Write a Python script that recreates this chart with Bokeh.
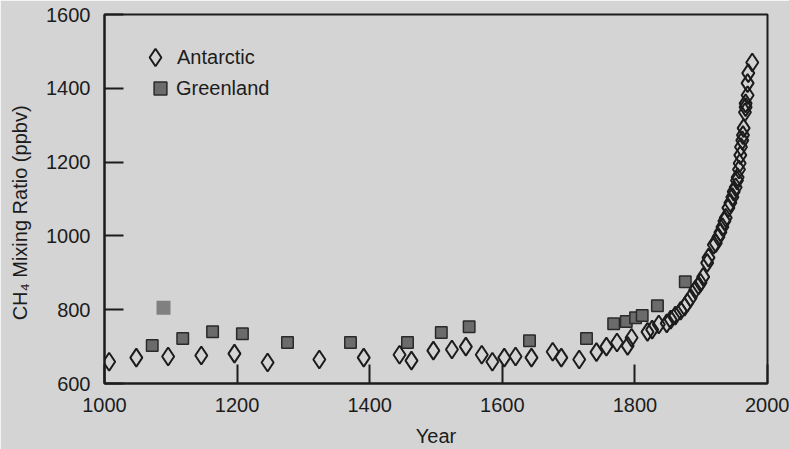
from bokeh.plotting import figure
from bokeh.models import Range1d, FixedTicker, Legend, LegendItem
from bokeh.embed import file_html
from bokeh.resources import INLINE

# Antarctic ice core CH4 (year, ppbv)
antarctic_year = [1007, 1048, 1096, 1146, 1196, 1246, 1324, 1391, 1445, 1463,
                  1496, 1524, 1545, 1569, 1585, 1603, 1620, 1644, 1676, 1689,
                  1716, 1742, 1757, 1773, 1789, 1795, 1819, 1826, 1836, 1848,
                  1854, 1861, 1869, 1875, 1879, 1884, 1891, 1896, 1899, 1903,
                  1909, 1911, 1919, 1922, 1926, 1929, 1932, 1935, 1937, 1941,
                  1944, 1947, 1949, 1952, 1954, 1955, 1957, 1958, 1959, 1960,
                  1962, 1963, 1964, 1966, 1967, 1967, 1970, 1970, 1971, 1977]
antarctic_ch4 = [659, 670, 673, 676, 681, 657, 665, 670, 678, 662,
                 689, 692, 700, 678, 659, 670, 673, 670, 686, 670,
                 665, 685, 700, 711, 702, 724, 740, 746, 760, 763,
                 773, 784, 797, 808, 819, 832, 854, 866, 873, 889,
                 927, 941, 976, 980, 997, 1010, 1024, 1040, 1049, 1076,
                 1090, 1105, 1120, 1132, 1150, 1159, 1180, 1197, 1219, 1241,
                 1259, 1273, 1292, 1335, 1349, 1359, 1381, 1414, 1441, 1470]

# Greenland ice core CH4
greenland_year = [1072, 1118, 1163, 1208, 1276, 1371, 1457, 1508, 1550, 1641,
                  1727, 1768, 1787, 1801, 1811, 1834, 1876]
greenland_ch4 = [703, 722, 740, 735, 711, 711, 711, 738, 754, 716,
                 722, 762, 768, 778, 784, 811, 876]

# Outlier (lighter square)
outlier_year = [1089]
outlier_ch4 = [805]

x_ticks = [1000, 1200, 1400, 1600, 1800, 2000]
y_ticks = [600, 800, 1000, 1200, 1400, 1600]

BG = "#d4d4d4"
INK = "#1c1c1c"
FONT = "Liberation Sans"
FS = "20px"

p = figure(width=789, height=449, output_backend="svg", toolbar_location=None,
           x_range=Range1d(1000, 2000), y_range=Range1d(600, 1600),
           min_border_left=104, min_border_right=22, min_border_top=14,
           min_border_bottom=66)
p.background_fill_color = BG
p.border_fill_color = BG
p.outline_line_color = INK
p.outline_line_width = 2
p.grid.visible = False

for ax in (p.xaxis[0], p.yaxis[0]):
    ax.axis_line_color = INK
    ax.axis_line_width = 2
    ax.major_tick_in = 19
    ax.major_tick_out = 0
    ax.major_tick_line_color = INK
    ax.major_tick_line_width = 2
    ax.minor_tick_line_color = None
    ax.major_label_text_font = FONT
    ax.major_label_text_font_size = FS
    ax.major_label_text_color = INK
    ax.axis_label_text_font = FONT
    ax.axis_label_text_font_size = FS
    ax.axis_label_text_font_style = "normal"
    ax.axis_label_text_color = INK

p.xaxis[0].ticker = FixedTicker(ticks=x_ticks)
p.yaxis[0].ticker = FixedTicker(ticks=y_ticks)
p.xaxis[0].axis_label = "Year"
p.yaxis[0].axis_label = "CH\u2084 Mixing Ratio (ppbv)" + "\u00a0" * 5
p.xaxis[0].major_label_standoff = 14
p.yaxis[0].major_label_standoff = 14
p.xaxis[0].axis_label_standoff = 10
p.yaxis[0].axis_label_standoff = 12

r_out = p.scatter(outlier_year, outlier_ch4, marker="square", size=14,
                  fill_color="#808080", line_color=None)
r_gr = p.scatter(greenland_year, greenland_ch4, marker="square", size=11.5,
                 fill_color="#6b6b6b", line_color="#2a2a2a", line_width=1.5)
r_an = p.scatter(antarctic_year, antarctic_ch4, marker="diamond", size=18,
                 fill_color=None, line_color=INK, line_width=2)

common = dict(padding=0, margin=0, spacing=0, label_standoff=0,
              border_line_color=None, background_fill_alpha=0,
              label_text_font=FONT, label_text_font_size=FS,
              label_text_color=INK)
leg_an = Legend(items=[LegendItem(label="Antarctic", renderers=[r_an])],
                location=(29, 304), glyph_width=44, glyph_height=44, **common)
leg_gr = Legend(items=[LegendItem(label="Greenland", renderers=[r_gr])],
                location=(40, 279), glyph_width=32, glyph_height=32, **common)
p.add_layout(leg_an)
p.add_layout(leg_gr)

open("out.html", "w").write(file_html(p, INLINE))
